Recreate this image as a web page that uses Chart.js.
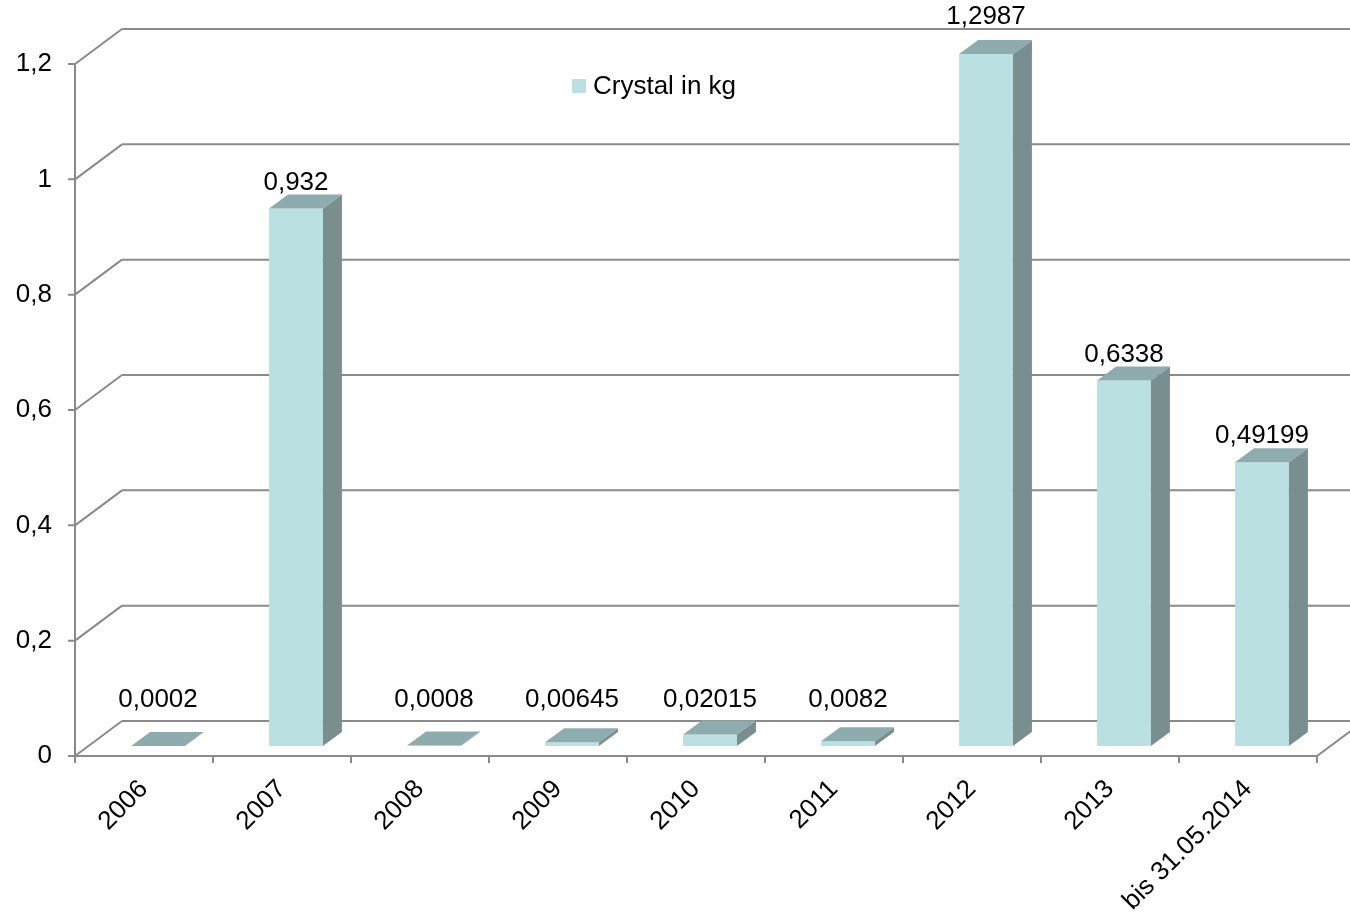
<!DOCTYPE html>
<html lang="de">
<head>
<meta charset="UTF-8">
<title>Crystal in kg</title>
<script src="https://cdn.jsdelivr.net/npm/chart.js@4.4.1/dist/chart.umd.min.js"></script>
<style>
  body { margin: 0; background: #fff; }
  canvas { display: block; }
</style>
</head>
<body>
<canvas id="grafico" width="1350" height="912"></canvas>
<script>
// Dados do gráfico
const anos = ['2006', '2007', '2008', '2009', '2010', '2011', '2012', '2013', 'bis 31.05.2014'];
const crystalKg = [0.0002, 0.932, 0.0008, 0.00645, 0.02015, 0.0082, 1.2987, 0.6338, 0.49199];
const rotulosY = ['0', '0,2', '0,4', '0,6', '0,8', '1', '1,2'];
const nomeSerie = 'Crystal in kg';

// Cores
const corFrente = '#BAE0E1';
const corLado = '#798E8F';
const corTopo = '#8EACAD';
const corGrade = '#8A8A8A';

// Deslocamentos da perspectiva 3D (pixels)
const frente = { dx: -14, dy: 10 };   // plano do eixo da frente
const fundo = { dx: 33, dy: -25 };    // parede do fundo
const prof = { dx: 19, dy: -14 };     // profundidade de cada barra

const fonte = "'Liberation Sans', Arial, sans-serif";

// Função para formatar número com vírgula
function formatar(v) {
    return String(v).replace('.', ',');
}

// Função para desenhar a moldura 3D (paredes, chão e eixos)
const molduraPlugin = {
    id: 'moldura',
    beforeDatasetsDraw(chart) {
        const ctx = chart.ctx;
        const area = chart.chartArea;
        const x = chart.scales.x;
        const y = chart.scales.y;
        ctx.save();
        ctx.strokeStyle = corGrade;
        ctx.lineWidth = 2;
        ctx.beginPath();
        y.ticks.forEach(t => {
            const py = y.getPixelForValue(t.value);
            // linha da parede do fundo
            ctx.moveTo(area.left + fundo.dx, py + fundo.dy);
            ctx.lineTo(area.right + fundo.dx, py + fundo.dy);
            // diagonal da parede esquerda
            ctx.moveTo(area.left + frente.dx, py + frente.dy);
            ctx.lineTo(area.left + fundo.dx, py + fundo.dy);
            // marca do eixo
            ctx.moveTo(area.left + frente.dx - 7, py + frente.dy);
            ctx.lineTo(area.left + frente.dx, py + frente.dy);
        });
        // eixo vertical
        ctx.moveTo(area.left + frente.dx, area.top + frente.dy);
        ctx.lineTo(area.left + frente.dx, area.bottom + frente.dy);
        // borda da frente do chão e diagonal da direita
        ctx.moveTo(area.left + frente.dx, area.bottom + frente.dy);
        ctx.lineTo(area.right + frente.dx, area.bottom + frente.dy);
        ctx.lineTo(area.right + fundo.dx, area.bottom + fundo.dy);
        // marcas entre as categorias
        for (let i = 0; i <= anos.length; i++) {
            const px = x.getPixelForValue(i - 0.5) + frente.dx;
            ctx.moveTo(px, area.bottom + frente.dy);
            ctx.lineTo(px, area.bottom + frente.dy + 7);
        }
        ctx.stroke();
        ctx.restore();
    }
};

// Função para desenhar lado e topo das barras
const barras3dPlugin = {
    id: 'barras3d',
    afterDatasetsDraw(chart) {
        const ctx = chart.ctx;
        const area = chart.chartArea;
        ctx.save();
        chart.getDatasetMeta(0).data.forEach(bar => {
            const p = bar.getProps(['x', 'y', 'base', 'width'], true);
            const topo = Math.max(p.y, area.top);
            const esq = p.x - p.width / 2;
            const dir = p.x + p.width / 2;

            // lado direito
            ctx.fillStyle = corLado;
            ctx.beginPath();
            ctx.moveTo(dir, topo);
            ctx.lineTo(dir + prof.dx, topo + prof.dy);
            ctx.lineTo(dir + prof.dx, p.base + prof.dy);
            ctx.lineTo(dir, p.base);
            ctx.closePath();
            ctx.fill();

            // topo
            ctx.fillStyle = corTopo;
            ctx.beginPath();
            ctx.moveTo(esq, topo);
            ctx.lineTo(dir, topo);
            ctx.lineTo(dir + prof.dx, topo + prof.dy);
            ctx.lineTo(esq + prof.dx, topo + prof.dy);
            ctx.closePath();
            ctx.fill();
        });
        ctx.restore();
    }
};

// Função para escrever o valor acima de cada barra
const rotulosPlugin = {
    id: 'rotulos',
    afterDatasetsDraw(chart) {
        const ctx = chart.ctx;
        const area = chart.chartArea;
        const valores = chart.data.datasets[0].data;
        ctx.save();
        ctx.font = '26px ' + fonte;
        ctx.fillStyle = '#000';
        ctx.textAlign = 'center';
        ctx.textBaseline = 'middle';
        chart.getDatasetMeta(0).data.forEach((bar, i) => {
            const p = bar.getProps(['x', 'y', 'base'], true);
            let ly;
            if (p.y < area.top) {
                ly = area.top - 37;
            } else {
                ly = Math.min(p.y - 26, p.base - 46);
            }
            ctx.fillText(formatar(valores[i]), p.x, ly);
        });
        ctx.restore();
    }
};

// Função para desenhar a legenda dentro da área do gráfico
const legendaPlugin = {
    id: 'legenda',
    afterDraw(chart) {
        const ctx = chart.ctx;
        const ds = chart.data.datasets[0];
        ctx.save();
        ctx.fillStyle = ds.backgroundColor;
        ctx.fillRect(572, 79, 14, 14);
        ctx.fillStyle = '#000';
        ctx.font = '26px ' + fonte;
        ctx.textBaseline = 'middle';
        ctx.fillText(ds.label, 593, 87);
        ctx.restore();
    }
};

new Chart(document.getElementById('grafico'), {
    type: 'bar',
    data: {
        labels: anos,
        datasets: [{
            label: nomeSerie,
            data: crystalKg,
            backgroundColor: corFrente,
            borderWidth: 0,
            clip: 0,
            barPercentage: 1,
            categoryPercentage: 0.39
        }]
    },
    options: {
        responsive: false,
        animation: false,
        layout: { padding: { top: 54, right: 19, left: 0, bottom: 0 } },
        plugins: {
            legend: { display: false },
            tooltip: { enabled: false }
        },
        scales: {
            x: {
                grid: { display: false, drawTicks: false },
                border: { display: false },
                ticks: {
                    font: { size: 26, family: fonte },
                    color: '#000',
                    minRotation: 45,
                    maxRotation: 45,
                    autoSkip: false,
                    labelOffset: -14,
                    padding: 28
                },
                afterFit(s) { s.height = 166; }
            },
            y: {
                min: 0,
                max: 1.2,
                grid: { display: false, drawTicks: false },
                border: { display: false },
                ticks: {
                    stepSize: 0.2,
                    font: { size: 26, family: fonte },
                    color: '#000',
                    padding: 37,
                    labelOffset: 10,
                    callback: (v, i) => rotulosY[i]
                },
                afterFit(s) { s.width = 89; }
            }
        }
    },
    plugins: [molduraPlugin, barras3dPlugin, rotulosPlugin, legendaPlugin]
});
</script>
</body>
</html>
